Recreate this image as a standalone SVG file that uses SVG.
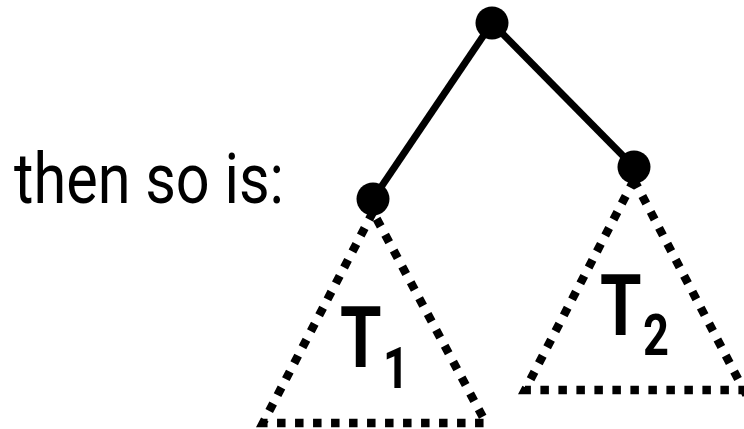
<svg xmlns="http://www.w3.org/2000/svg" width="744" height="429" viewBox="0 0 744 429">
<style>
.edge{stroke:#000;stroke-width:7;fill:none}
.dot{stroke:#000;stroke-width:8.5;fill:none;stroke-dasharray:8.5 9.5}
.node{fill:#000}
.lbl{font-family:Roboto,"Liberation Sans",sans-serif;fill:#000}
.tl{font-size:86px;font-weight:bold}
.sub{font-size:58px}
</style>
<rect width="744" height="429" fill="#fff"/>
<text class="lbl" x="14" y="203" font-size="70" textLength="270" lengthAdjust="spacingAndGlyphs">then so is:</text>
<g id="connectors">
<line class="edge" x1="492" y1="23" x2="373" y2="199"/>
<line class="edge" x1="492" y1="23" x2="634" y2="167"/>
</g>
<g id="T1">
<path class="dot" d="M373 212 L263 423 L486 423 Z"/>
<text class="lbl tl" transform="translate(340,367) scale(0.78,1)">T<tspan class="sub" dx="2" dy="21">1</tspan></text>
</g>
<g id="T2">
<path class="dot" d="M634 180 L525 390 L748 390 M634 180 L748 398"/>
<text class="lbl tl" transform="translate(600,335) scale(0.78,1)">T<tspan class="sub" dx="2" dy="20">2</tspan></text>
</g>
<g id="root"><circle class="node" cx="492" cy="23" r="16.5"/></g>
<g id="left"><circle class="node" cx="373" cy="199" r="16.5"/></g>
<g id="right"><circle class="node" cx="634" cy="167" r="16.5"/></g>
</svg>
